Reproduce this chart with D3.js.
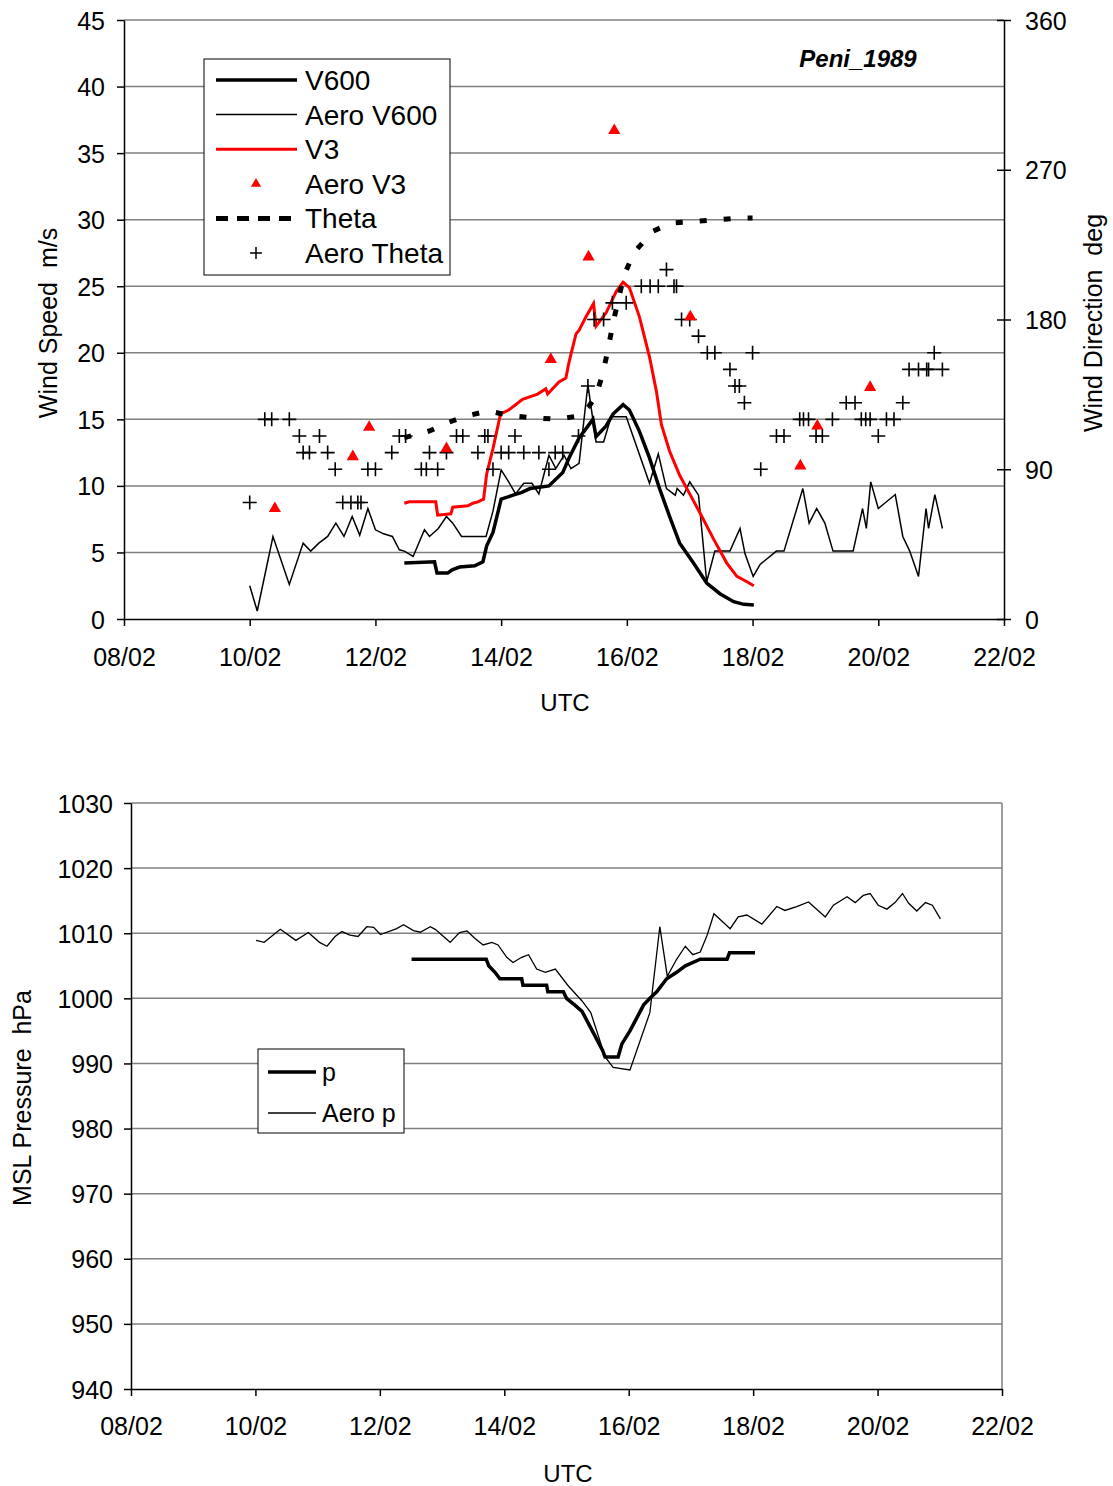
<!DOCTYPE html>
<html>
<head>
<meta charset="utf-8">
<script src="https://cdn.jsdelivr.net/npm/d3@7"></script>
<style>
body { margin: 0; background: #fff; }
text { font-family: "Liberation Sans", Arial, sans-serif; fill: #000; }
</style>
</head>
<body>
<svg id="chart" width="1113" height="1486"></svg>
<script>
// days are day-of-month in February 1989 (fractional)
const dayTicks = [8, 10, 12, 14, 16, 18, 20, 22];
const speedTicks = [0, 5, 10, 15, 20, 25, 30, 35, 40, 45];
const dirTicks = [0, 90, 180, 270, 360];
const pressTicks = [940, 950, 960, 970, 980, 990, 1000, 1010, 1020, 1030];

const v600 = [[12.46,4.2],[12.94,4.3],[12.98,3.45],[13.15,3.45],[13.22,3.7],[13.34,3.9],[13.58,4.0],[13.71,4.3],
  [13.77,5.5],[13.87,6.5],[14.0,9.0],[14.19,9.3],[14.32,9.5],[14.46,9.8],[14.76,10.0],[14.98,11.0],[15.08,12.1],
  [15.24,13.6],[15.46,15.0],[15.51,13.7],[15.67,14.5],[15.78,15.4],[15.94,16.1],[16.04,15.7],[16.2,14.1],
  [16.36,12.1],[16.52,9.8],[16.68,7.7],[16.84,5.7],[17.06,4.2],[17.27,2.7],[17.48,1.9],[17.7,1.3],[17.86,1.1],[18.02,1.05]];

const aeroV600 = [[10.0,2.5],[10.12,0.6],[10.37,6.2],[10.63,2.6],[10.85,5.7],[10.97,5.1],[11.1,5.7],[11.24,6.2],
  [11.37,7.2],[11.5,6.2],[11.63,7.7],[11.75,6.3],[11.88,8.3],[12.0,6.7],[12.13,6.4],[12.27,6.2],[12.38,5.2],
  [12.46,5.1],[12.6,4.7],[12.78,6.7],[12.86,6.2],[13.0,6.8],[13.13,7.7],[13.23,7.2],[13.37,6.2],[13.76,6.2],
  [13.87,8.1],[14.0,11.2],[14.12,10.3],[14.23,9.4],[14.36,10.2],[14.49,10.2],[14.6,9.4],[14.76,12.3],[14.87,11.3],
  [15.0,12.3],[15.11,11.3],[15.24,11.7],[15.38,17.6],[15.51,13.3],[15.63,13.3],[15.75,15.2],[15.99,15.2],
  [16.36,10.2],[16.5,12.4],[16.63,9.8],[16.77,9.3],[16.8,9.8],[16.9,9.3],[17.0,10.3],[17.14,9.3],[17.27,2.8],
  [17.4,5.1],[17.64,5.1],[17.8,6.8],[17.88,4.9],[18.01,3.2],[18.12,4.1],[18.38,5.1],[18.5,5.1],[18.8,9.8],
  [18.9,7.2],[19.02,8.3],[19.15,7.2],[19.28,5.1],[19.6,5.1],[19.75,8.3],[19.81,6.8],[19.88,10.3],[20.0,8.3],
  [20.27,9.35],[20.39,6.2],[20.5,5.1],[20.64,3.2],[20.76,8.3],[20.8,6.8],[20.9,9.35],[21.02,6.8]];

const v3 = [[12.46,8.7],[12.54,8.8],[12.96,8.8],[12.99,7.8],[13.2,7.9],[13.23,8.4],[13.47,8.5],[13.55,8.7],
  [13.63,8.8],[13.72,9.0],[13.77,10.9],[13.87,12.8],[13.99,15.4],[14.12,15.7],[14.23,16.1],[14.34,16.5],
  [14.58,16.9],[14.71,17.3],[14.74,16.9],[14.92,17.8],[15.03,18.1],[15.08,19.3],[15.19,21.4],[15.24,21.7],
  [15.35,22.7],[15.47,23.7],[15.51,22.0],[15.67,23.0],[15.83,24.6],[15.94,25.3],[16.04,24.9],[16.2,22.7],
  [16.36,19.7],[16.47,17.1],[16.55,14.6],[16.68,12.6],[16.84,10.8],[17.0,9.4],[17.16,8.0],[17.38,6.0],
  [17.59,4.2],[17.75,3.2],[17.91,2.8],[18.02,2.5]];

const aeroV3 = [[10.4,8.3],[11.64,12.2],[11.9,14.4],[13.13,12.8],[14.79,19.5],[15.39,27.2],[15.8,36.7],
  [17.01,22.7],[18.76,11.5],[19.03,14.5],[19.87,17.4]];

const theta = [[12.46,109],[12.86,113],[13.15,118],[13.45,122],[13.79,125],[14.19,122],[14.5,121],[14.9,120],
  [15.22,122],[15.4,128],[15.51,134],[15.62,148],[15.7,162],[15.78,178],[15.86,191],[15.95,206],[16.11,220],
  [16.41,233],[16.71,238],[17.08,239],[17.46,240],[17.8,241],[18.0,241]];

const aeroTheta = [[10.0,70],[10.24,120],[10.35,120],[10.63,120],[10.79,110],[10.85,100],[10.95,100],[11.11,110],
  [11.24,100],[11.36,90],[11.48,70],[11.61,70],[11.72,70],[11.77,70],[11.88,90],[12.0,90],[12.26,100],[12.38,110],
  [12.48,110],[12.73,90],[12.81,90],[12.86,100],[12.99,90],[13.13,100],[13.29,110],[13.39,110],[13.63,100],
  [13.74,110],[13.79,110],[13.87,90],[14.0,100],[14.12,100],[14.22,110],[14.36,100],[14.6,100],[14.76,90],
  [14.86,100],[14.98,100],[15.23,110],[15.38,140],[15.48,180],[15.63,180],[15.77,190],[15.99,190],[16.23,200],
  [16.37,200],[16.5,200],[16.63,210],[16.75,200],[16.79,200],[16.87,180],[17.0,180],[17.14,170],[17.28,160],
  [17.4,160],[17.64,150],[17.72,140],[17.79,140],[17.87,130],[18.0,160],[18.13,90],[18.38,110],[18.5,110],
  [18.75,120],[18.81,120],[18.89,120],[19.01,110],[19.11,110],[19.27,120],[19.49,130],[19.63,130],[19.73,120],
  [19.8,120],[19.87,120],[20.0,110],[20.13,120],[20.25,120],[20.39,130],[20.49,150],[20.64,150],[20.77,150],
  [20.8,150],[20.89,160],[21.02,150]];

const pModel = [[12.51,1006],[13.71,1006],[13.75,1005],[13.85,1004],[13.93,1003],[14.28,1003],[14.3,1002],
  [14.68,1002],[14.7,1001],[14.95,1001],[15.0,1000],[15.13,999],[15.25,998],[15.36,996],[15.47,994],[15.58,992],
  [15.62,991],[15.83,991],[15.89,993],[16.02,995],[16.13,997],[16.24,999],[16.34,1000],[16.45,1001],[16.61,1003],
  [16.77,1004],[16.91,1005],[17.15,1006],[17.58,1006],[17.62,1007],[18.03,1007]];

const aeroP = [[10.01,1008.9],[10.14,1008.6],[10.4,1010.6],[10.65,1008.9],[10.85,1010.1],[11.03,1008.6],
  [11.15,1008.0],[11.28,1009.5],[11.39,1010.25],[11.52,1009.7],[11.65,1009.5],[11.79,1011.0],[11.9,1010.9],
  [12.01,1009.8],[12.27,1010.7],[12.38,1011.3],[12.54,1010.4],[12.65,1010.15],[12.81,1011.0],[12.89,1010.6],
  [13.13,1008.6],[13.28,1010.1],[13.4,1010.35],[13.53,1009.2],[13.66,1008.2],[13.8,1008.6],[13.9,1008.2],
  [14.04,1006.3],[14.14,1005.5],[14.28,1006.3],[14.39,1006.7],[14.52,1004.5],[14.66,1004.0],[14.82,1004.5],
  [15.03,1001.9],[15.25,999.6],[15.39,997.8],[15.51,994.3],[15.62,991.0],[15.75,989.4],[16.02,989.0],
  [16.34,997.8],[16.5,1011.0],[16.62,1003.4],[16.77,1006.0],[16.91,1008.0],[17.03,1006.7],[17.15,1007.1],
  [17.26,1009.7],[17.37,1013.0],[17.63,1010.7],[17.76,1012.5],[17.9,1012.8],[18.14,1011.4],[18.38,1014.1],
  [18.51,1013.5],[18.7,1014.1],[18.89,1014.8],[19.16,1012.5],[19.29,1014.3],[19.51,1015.6],[19.64,1014.7],
  [19.77,1015.8],[19.88,1016.1],[20.01,1014.3],[20.15,1013.7],[20.28,1014.7],[20.4,1016.1],[20.5,1014.6],
  [20.63,1013.4],[20.77,1014.7],[20.88,1014.3],[21.01,1012.2]];

const svg = d3.select('#chart');
svg.append('rect').attr('width', 1113).attr('height', 1486).attr('fill', 'white');

const fmtDay = d => d3.format('02')(d) + '/02';
const gridColor = '#808080';
const tickFont = '25px';

function styleAxis(g) {
  g.select('.domain').attr('stroke', '#000').attr('stroke-width', 1.5);
  g.selectAll('.tick line').attr('stroke', '#000').attr('stroke-width', 1.5);
  g.selectAll('.tick text').style('font-size', tickFont).attr('fill', '#000');
}

function plus(s) { return 'M' + (-s) + ',0H' + s + 'M0,' + (-s) + 'V' + s; }

// ---------------- top chart: wind ----------------
const x1 = d3.scaleLinear().domain([8, 22]).range([124, 1004]);
const ySpd = d3.scaleLinear().domain([0, 45]).range([619, 20]);
const yDir = d3.scaleLinear().domain([0, 360]).range([619, 20]);

svg.append('g').selectAll('line').data(speedTicks.slice(1)).join('line')
  .attr('x1', x1(8)).attr('x2', x1(22))
  .attr('y1', d => ySpd(d)).attr('y2', d => ySpd(d))
  .attr('stroke', gridColor).attr('stroke-width', 1.5);

const ax1L = svg.append('g').attr('transform', 'translate(' + x1(8) + ',0)')
  .call(d3.axisLeft(ySpd).tickValues(speedTicks).tickSize(7).tickSizeOuter(0).tickPadding(12));
styleAxis(ax1L);
ax1L.selectAll('.tick text').attr('dy', '0.36em');

const ax1R = svg.append('g').attr('transform', 'translate(' + x1(22) + ',0)')
  .call(d3.axisRight(yDir).tickValues(dirTicks).tickSize(7).tickSizeOuter(0).tickPadding(14));
styleAxis(ax1R);
ax1R.selectAll('.tick line').attr('x1', -7).attr('x2', 7);
ax1R.selectAll('.tick text').attr('dy', '0.36em');

const ax1B = svg.append('g').attr('transform', 'translate(0,' + ySpd(0) + ')')
  .call(d3.axisBottom(x1).tickValues(dayTicks).tickFormat(fmtDay).tickSize(7).tickSizeOuter(0));
styleAxis(ax1B);
ax1B.selectAll('.tick text').attr('y', 38).attr('dy', '0.36em');

const lineSpd = d3.line().x(d => x1(d[0])).y(d => ySpd(d[1]));
const lineDir = d3.line().x(d => x1(d[0])).y(d => yDir(d[1]));

svg.append('path').datum(aeroV600).attr('d', lineSpd)
  .attr('fill', 'none').attr('stroke', '#000').attr('stroke-width', 1.5);
svg.append('path').datum(v600).attr('d', lineSpd)
  .attr('fill', 'none').attr('stroke', '#000').attr('stroke-width', 3.5);
svg.append('path').datum(v3).attr('d', lineSpd)
  .attr('fill', 'none').attr('stroke', '#ff0000').attr('stroke-width', 3);
svg.append('path').datum(theta).attr('d', lineDir)
  .attr('fill', 'none').attr('stroke', '#000').attr('stroke-width', 5).attr('stroke-dasharray', '7,17');

svg.append('g').selectAll('path').data(aeroTheta).join('path')
  .attr('d', plus(7))
  .attr('transform', d => 'translate(' + x1(d[0]) + ',' + yDir(d[1]) + ')')
  .attr('stroke', '#000').attr('stroke-width', 1.6).attr('fill', 'none');

const tri = d3.symbol(d3.symbolTriangle).size(65);
svg.append('g').selectAll('path').data(aeroV3).join('path')
  .attr('d', tri)
  .attr('transform', d => 'translate(' + x1(d[0]) + ',' + ySpd(d[1]) + ')')
  .attr('fill', '#ff0000');

svg.append('text').attr('x', 858).attr('y', 58).attr('text-anchor', 'middle').attr('dy', '0.36em')
  .style('font-size', '24px').style('font-weight', 'bold').style('font-style', 'italic').text('Peni_1989');

svg.append('text').attr('transform', 'translate(48,323) rotate(-90)').attr('text-anchor', 'middle')
  .attr('dy', '0.36em').style('font-size', '25px').style('white-space', 'pre').text('Wind Speed  m/s');
svg.append('text').attr('transform', 'translate(1093,323) rotate(-90)').attr('text-anchor', 'middle')
  .attr('dy', '0.36em').style('font-size', '25px').style('white-space', 'pre').text('Wind Direction  deg');
svg.append('text').attr('x', 565).attr('y', 702).attr('text-anchor', 'middle').attr('dy', '0.36em')
  .style('font-size', '24px').text('UTC');

// legend (top)
const leg1 = svg.append('g');
leg1.append('rect').attr('x', 204).attr('y', 59).attr('width', 246).attr('height', 216)
  .attr('fill', 'white').attr('stroke', '#000').attr('stroke-width', 1);
const leg1Items = ['V600', 'Aero V600', 'V3', 'Aero V3', 'Theta', 'Aero Theta'];
leg1Items.forEach((name, i) => {
  const y = 80 + i * 34.6;
  if (name === 'V600') leg1.append('line').attr('x1', 216).attr('x2', 297).attr('y1', y).attr('y2', y).attr('stroke', '#000').attr('stroke-width', 3.5);
  if (name === 'Aero V600') leg1.append('line').attr('x1', 216).attr('x2', 297).attr('y1', y).attr('y2', y).attr('stroke', '#000').attr('stroke-width', 1.5);
  if (name === 'V3') leg1.append('line').attr('x1', 216).attr('x2', 297).attr('y1', y).attr('y2', y).attr('stroke', '#ff0000').attr('stroke-width', 3);
  if (name === 'Aero V3') leg1.append('path').attr('d', d3.symbol(d3.symbolTriangle).size(45)).attr('transform', 'translate(256,' + y + ')').attr('fill', '#ff0000');
  if (name === 'Theta') leg1.append('line').attr('x1', 216).attr('x2', 297).attr('y1', y).attr('y2', y).attr('stroke', '#000').attr('stroke-width', 5).attr('stroke-dasharray', '12,9');
  if (name === 'Aero Theta') leg1.append('path').attr('d', plus(6)).attr('transform', 'translate(256,' + y + ')').attr('stroke', '#000').attr('stroke-width', 1.5);
  leg1.append('text').attr('x', 305).attr('y', y).attr('dy', '0.36em').style('font-size', '28px').text(name);
});

// ---------------- bottom chart: pressure ----------------
const x2 = d3.scaleLinear().domain([8, 22]).range([131, 1002]);
const yP = d3.scaleLinear().domain([940, 1030]).range([1389, 803]);

svg.append('g').selectAll('line').data(pressTicks.slice(1)).join('line')
  .attr('x1', x2(8)).attr('x2', x2(22))
  .attr('y1', d => yP(d)).attr('y2', d => yP(d))
  .attr('stroke', gridColor).attr('stroke-width', 1.5);
svg.append('line').attr('x1', x2(22)).attr('x2', x2(22)).attr('y1', yP(940)).attr('y2', yP(1030))
  .attr('stroke', gridColor).attr('stroke-width', 1.5);

const ax2L = svg.append('g').attr('transform', 'translate(' + x2(8) + ',0)')
  .call(d3.axisLeft(yP).tickValues(pressTicks).tickFormat(d3.format('d')).tickSize(7).tickSizeOuter(0).tickPadding(11));
styleAxis(ax2L);
ax2L.selectAll('.tick text').attr('dy', '0.36em');

const ax2B = svg.append('g').attr('transform', 'translate(0,' + yP(940) + ')')
  .call(d3.axisBottom(x2).tickValues(dayTicks).tickFormat(fmtDay).tickSize(7).tickSizeOuter(0));
styleAxis(ax2B);
ax2B.selectAll('.tick text').attr('y', 37).attr('dy', '0.36em');

const lineP = d3.line().x(d => x2(d[0])).y(d => yP(d[1]));
svg.append('path').datum(aeroP).attr('d', lineP)
  .attr('fill', 'none').attr('stroke', '#000').attr('stroke-width', 1.3);
svg.append('path').datum(pModel).attr('d', lineP)
  .attr('fill', 'none').attr('stroke', '#000').attr('stroke-width', 3.5);

svg.append('text').attr('transform', 'translate(22,1098) rotate(-90)').attr('text-anchor', 'middle')
  .attr('dy', '0.36em').style('font-size', '25px').style('white-space', 'pre').text('MSL Pressure  hPa');
svg.append('text').attr('x', 568).attr('y', 1473).attr('text-anchor', 'middle').attr('dy', '0.36em')
  .style('font-size', '24px').text('UTC');

// legend (bottom)
const leg2 = svg.append('g');
leg2.append('rect').attr('x', 258).attr('y', 1049).attr('width', 146).attr('height', 84)
  .attr('fill', 'white').attr('stroke', '#000').attr('stroke-width', 1);
leg2.append('line').attr('x1', 268).attr('x2', 316).attr('y1', 1072).attr('y2', 1072).attr('stroke', '#000').attr('stroke-width', 3.5);
leg2.append('line').attr('x1', 268).attr('x2', 316).attr('y1', 1113).attr('y2', 1113).attr('stroke', '#000').attr('stroke-width', 1.3);
leg2.append('text').attr('x', 322).attr('y', 1072).attr('dy', '0.36em').style('font-size', '25px').text('p');
leg2.append('text').attr('x', 322).attr('y', 1113).attr('dy', '0.36em').style('font-size', '25px').text('Aero p');
</script>
</body>
</html>
